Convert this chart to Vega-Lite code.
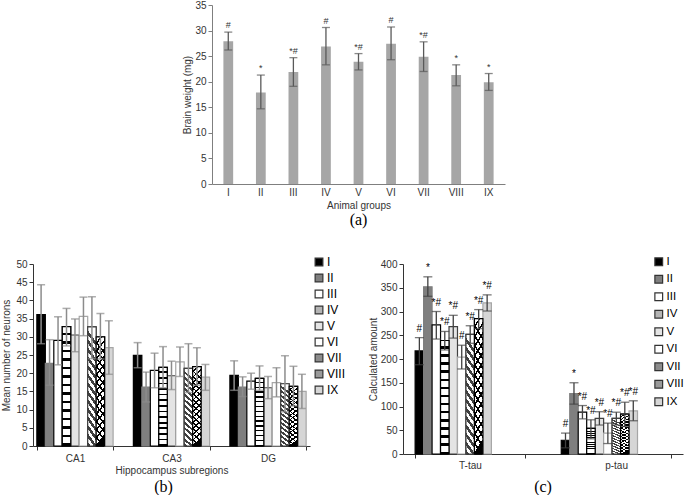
{
  "$schema": "https://vega.github.io/schema/vega-lite/v6.json",
  "padding": {"left": 1, "top": 0, "right": 0, "bottom": 0},
  "background": "white",
  "config": {
    "font": "Liberation Sans",
    "view": {"stroke": null},
    "axis": {"labelFontSize": 10, "titleFontSize": 10, "titleFontWeight": "normal", "labelColor": "#333333", "titleColor": "#333333", "domainColor": "#7f7f7f", "tickColor": "#7f7f7f", "grid": false, "tickSize": 4},
    "legend": {"symbolStrokeColor": "#333333"},
    "title": {"font": "Liberation Serif", "fontSize": 16, "fontWeight": "normal", "color": "#000000"}
  },
  "datasets": {
    "a": [
      {"group": "I", "value": 27.9, "lo": 26.2, "hi": 29.7, "label": "#"},
      {"group": "II", "value": 17.9, "lo": 14.7, "hi": 21.3, "label": "*"},
      {"group": "III", "value": 21.9, "lo": 19.1, "hi": 24.7, "label": "*#"},
      {"group": "IV", "value": 26.9, "lo": 23.3, "hi": 30.6, "label": "#"},
      {"group": "V", "value": 23.9, "lo": 22.3, "hi": 25.5, "label": "*#"},
      {"group": "VI", "value": 27.4, "lo": 24.3, "hi": 30.7, "label": "#"},
      {"group": "VII", "value": 24.9, "lo": 22.0, "hi": 27.8, "label": "*#"},
      {"group": "VIII", "value": 21.3, "lo": 19.2, "hi": 23.3, "label": "*"},
      {"group": "IX", "value": 19.9, "lo": 18.3, "hi": 21.6, "label": "*"}
    ],
    "b": [
      {"region": "CA1", "group": "I", "value": 36.1, "lo": 28.1, "hi": 44.3},
      {"region": "CA1", "group": "II", "value": 22.7, "lo": 16.7, "hi": 29.2},
      {"region": "CA1", "group": "III", "value": 29.0, "lo": 22.3, "hi": 35.5},
      {"region": "CA1", "group": "IV", "value": 32.8, "lo": 27.5, "hi": 37.8},
      {"region": "CA1", "group": "V", "value": 30.5, "lo": 25.9, "hi": 34.9},
      {"region": "CA1", "group": "VI", "value": 35.6, "lo": 30.3, "hi": 40.9},
      {"region": "CA1", "group": "VII", "value": 32.7, "lo": 24.0, "hi": 41.0},
      {"region": "CA1", "group": "VIII", "value": 30.0, "lo": 23.9, "hi": 36.4},
      {"region": "CA1", "group": "IX", "value": 27.0, "lo": 19.7, "hi": 34.4},
      {"region": "CA3", "group": "I", "value": 24.9, "lo": 21.5, "hi": 28.4},
      {"region": "CA3", "group": "II", "value": 16.2, "lo": 12.1, "hi": 20.3},
      {"region": "CA3", "group": "III", "value": 20.8, "lo": 16.0, "hi": 25.5},
      {"region": "CA3", "group": "IV", "value": 21.6, "lo": 16.0, "hi": 27.3},
      {"region": "CA3", "group": "V", "value": 19.3, "lo": 15.5, "hi": 23.3},
      {"region": "CA3", "group": "VI", "value": 23.1, "lo": 19.1, "hi": 27.2},
      {"region": "CA3", "group": "VII", "value": 21.3, "lo": 14.7, "hi": 28.1},
      {"region": "CA3", "group": "VIII", "value": 21.8, "lo": 16.7, "hi": 27.0},
      {"region": "CA3", "group": "IX", "value": 18.9, "lo": 15.3, "hi": 22.4},
      {"region": "DG", "group": "I", "value": 19.4, "lo": 15.3, "hi": 23.4},
      {"region": "DG", "group": "II", "value": 16.2, "lo": 13.6, "hi": 19.0},
      {"region": "DG", "group": "III", "value": 17.8, "lo": 15.6, "hi": 20.0},
      {"region": "DG", "group": "IV", "value": 18.6, "lo": 15.3, "hi": 22.0},
      {"region": "DG", "group": "V", "value": 16.0, "lo": 13.0, "hi": 19.1},
      {"region": "DG", "group": "VI", "value": 17.4, "lo": 13.5, "hi": 21.5},
      {"region": "DG", "group": "VII", "value": 17.1, "lo": 9.4, "hi": 24.8},
      {"region": "DG", "group": "VIII", "value": 16.4, "lo": 11.0, "hi": 21.9},
      {"region": "DG", "group": "IX", "value": 15.0, "lo": 10.3, "hi": 19.7}
    ],
    "c": [
      {"protein": "T-tau", "group": "I", "value": 217, "lo": 188, "hi": 245, "label": "#"},
      {"protein": "T-tau", "group": "II", "value": 352, "lo": 332, "hi": 373, "label": "*"},
      {"protein": "T-tau", "group": "III", "value": 272, "lo": 242, "hi": 300, "label": "*#"},
      {"protein": "T-tau", "group": "IV", "value": 239, "lo": 219, "hi": 258, "label": "*#"},
      {"protein": "T-tau", "group": "V", "value": 268, "lo": 244, "hi": 292, "label": "*#"},
      {"protein": "T-tau", "group": "VI", "value": 204, "lo": 179, "hi": 229, "label": "#"},
      {"protein": "T-tau", "group": "VII", "value": 252, "lo": 233, "hi": 270, "label": "*#"},
      {"protein": "T-tau", "group": "VIII", "value": 285, "lo": 264, "hi": 304, "label": "*#"},
      {"protein": "T-tau", "group": "IX", "value": 318, "lo": 301, "hi": 335, "label": "*#"},
      {"protein": "p-tau", "group": "I", "value": 29, "lo": 13, "hi": 44, "label": "#"},
      {"protein": "p-tau", "group": "II", "value": 127, "lo": 105, "hi": 150, "label": "*"},
      {"protein": "p-tau", "group": "III", "value": 88, "lo": 74, "hi": 102, "label": "*#"},
      {"protein": "p-tau", "group": "IV", "value": 54, "lo": 32, "hi": 72, "label": "*#"},
      {"protein": "p-tau", "group": "V", "value": 75, "lo": 61, "hi": 89, "label": "*#"},
      {"protein": "p-tau", "group": "VI", "value": 44, "lo": 22, "hi": 65, "label": "*#"},
      {"protein": "p-tau", "group": "VII", "value": 75, "lo": 61, "hi": 88, "label": "*#"},
      {"protein": "p-tau", "group": "VIII", "value": 84, "lo": 58, "hi": 109, "label": "*#"},
      {"protein": "p-tau", "group": "IX", "value": 91, "lo": 70, "hi": 112, "label": "*#"}
    ]
  },
  "vconcat": [
    {
      "width": 293,
      "height": 179,
      "data": {"name": "a"},
      "title": {"text": "(a)", "orient": "bottom", "offset": 2},
      "encoding": {
        "x": {"field": "group", "type": "nominal", "sort": ["I","II","III","IV","V","VI","VII","VIII","IX"],
              "scale": {"paddingInner": 0.7, "paddingOuter": 0.35},
              "axis": {"title": "Animal groups", "labelAngle": 0, "ticks": false, "labelPadding": 3, "titlePadding": 3}},
        "y": {"field": "value", "type": "quantitative", "scale": {"domain": [0, 35]},
              "axis": {"title": "Brain weight (mg)", "values": [0,5,10,15,20,25,30,35], "titlePadding": 2, "labelPadding": 2}}
      },
      "layer": [
        {"mark": {"type": "bar", "color": "#a6a6a6"}},
        {"mark": {"type": "rule", "color": "#595959", "strokeWidth": 1.3},
         "encoding": {"y": {"field": "lo", "type": "quantitative", "axis": {"title": "Brain weight (mg)", "values": [0,5,10,15,20,25,30,35], "titlePadding": 2, "labelPadding": 2}}, "y2": {"field": "hi"}}},
        {"mark": {"type": "tick", "color": "#595959", "size": 8, "thickness": 1.3},
         "encoding": {"y": {"field": "hi", "type": "quantitative", "axis": {"title": "Brain weight (mg)", "values": [0,5,10,15,20,25,30,35], "titlePadding": 2, "labelPadding": 2}}}},
        {"mark": {"type": "tick", "color": "#595959", "size": 8, "thickness": 1.3},
         "encoding": {"y": {"field": "lo", "type": "quantitative", "axis": {"title": "Brain weight (mg)", "values": [0,5,10,15,20,25,30,35], "titlePadding": 2, "labelPadding": 2}}}},
        {"mark": {"type": "text", "dy": -7, "fontSize": 9, "color": "#333333"},
         "encoding": {"y": {"field": "hi", "type": "quantitative", "axis": {"title": "Brain weight (mg)", "values": [0,5,10,15,20,25,30,35], "titlePadding": 2, "labelPadding": 2}}, "text": {"field": "label"}}}
      ]
    },
    {
      "hconcat": [
        {
          "width": 277,
          "height": 182,
          "data": {"name": "b"},
          "title": {"text": "(b)", "orient": "bottom", "offset": 4, "dx": -8},
          "encoding": {
            "x": {"field": "region", "type": "nominal", "sort": ["CA1","CA3","DG"],
                  "scale": {"paddingInner": 0.21, "paddingOuter": 0.04},
                  "axis": {"title": "Hippocampus subregions", "labelAngle": 0, "tickBand": "extent", "domainColor": "#333333", "tickColor": "#333333", "labelPadding": 3, "titlePadding": 2}},
            "xOffset": {"field": "group", "type": "nominal", "sort": ["I","II","III","IV","V","VI","VII","VIII","IX"], "scale": {"paddingInner": 0, "paddingOuter": 0}},
            "y": {"field": "value", "type": "quantitative", "scale": {"domain": [0, 50]},
                  "axis": {"title": "Mean number of neurons", "values": [0,5,10,15,20,25,30,35,40,45,50], "domainColor": "#333333", "tickColor": "#333333", "labelPadding": 2, "titlePadding": 4}}
          },
          "layer": [
            {"mark": {"type": "bar", "strokeWidth": 1.2},
             "encoding": {
               "fill": {"field": "group", "type": "nominal", "sort": ["I","II","III","IV","V","VI","VII","VIII","IX"],
                        "scale": {"range": ["#000000","#7f7f7f","#ffffff","#b4b4b4","#e4e4e4","#ffffff","#8c8c8c","#9a9a9a","#d6d6d6"]},
                        "legend": {"title": null, "orient": "none", "legendX": 280, "legendY": -8, "symbolType": "square", "symbolSize": 60, "labelFontSize": 12, "labelColor": "#000000", "rowPadding": 2, "labelOffset": 2, "symbolStrokeWidth": 1.2}},
               "stroke": {"field": "group", "type": "nominal", "sort": ["I","II","III","IV","V","VI","VII","VIII","IX"],
                          "scale": {"range": ["#000000","#7f7f7f","#000000","#000000","#404040","#a6a6a6","#404040","#000000","#a6a6a6"]},
                          "legend": null}
             }},
            {"transform": [{"filter": "datum.group === 'IV'"}],
             "mark": {"type": "bar", "stroke": "#000000", "strokeWidth": 1.2, "fill": {"gradient": "linear", "x1": 0, "y1": 0, "x2": 0, "y2": 1, "stops": [
               {"offset": 0, "color": "#ffffff"}, {"offset": 0.05, "color": "#ffffff"}, {"offset": 0.05, "color": "#000000"}, {"offset": 0.0714, "color": "#000000"},
               {"offset": 0.0714, "color": "#ffffff"}, {"offset": 0.1214, "color": "#ffffff"}, {"offset": 0.1214, "color": "#000000"}, {"offset": 0.1429, "color": "#000000"},
               {"offset": 0.1429, "color": "#ffffff"}, {"offset": 0.1929, "color": "#ffffff"}, {"offset": 0.1929, "color": "#000000"}, {"offset": 0.2143, "color": "#000000"},
               {"offset": 0.2143, "color": "#ffffff"}, {"offset": 0.2643, "color": "#ffffff"}, {"offset": 0.2643, "color": "#000000"}, {"offset": 0.2857, "color": "#000000"},
               {"offset": 0.2857, "color": "#ffffff"}, {"offset": 0.3357, "color": "#ffffff"}, {"offset": 0.3357, "color": "#000000"}, {"offset": 0.3571, "color": "#000000"},
               {"offset": 0.3571, "color": "#ffffff"}, {"offset": 0.4071, "color": "#ffffff"}, {"offset": 0.4071, "color": "#000000"}, {"offset": 0.4286, "color": "#000000"},
               {"offset": 0.4286, "color": "#ffffff"}, {"offset": 0.4786, "color": "#ffffff"}, {"offset": 0.4786, "color": "#000000"}, {"offset": 0.5, "color": "#000000"},
               {"offset": 0.5, "color": "#ffffff"}, {"offset": 0.55, "color": "#ffffff"}, {"offset": 0.55, "color": "#000000"}, {"offset": 0.5714, "color": "#000000"},
               {"offset": 0.5714, "color": "#ffffff"}, {"offset": 0.6214, "color": "#ffffff"}, {"offset": 0.6214, "color": "#000000"}, {"offset": 0.6429, "color": "#000000"},
               {"offset": 0.6429, "color": "#ffffff"}, {"offset": 0.6929, "color": "#ffffff"}, {"offset": 0.6929, "color": "#000000"}, {"offset": 0.7143, "color": "#000000"},
               {"offset": 0.7143, "color": "#ffffff"}, {"offset": 0.7643, "color": "#ffffff"}, {"offset": 0.7643, "color": "#000000"}, {"offset": 0.7857, "color": "#000000"},
               {"offset": 0.7857, "color": "#ffffff"}, {"offset": 0.8357, "color": "#ffffff"}, {"offset": 0.8357, "color": "#000000"}, {"offset": 0.8571, "color": "#000000"},
               {"offset": 0.8571, "color": "#ffffff"}, {"offset": 0.9071, "color": "#ffffff"}, {"offset": 0.9071, "color": "#000000"}, {"offset": 0.9286, "color": "#000000"},
               {"offset": 0.9286, "color": "#ffffff"}, {"offset": 0.9786, "color": "#ffffff"}, {"offset": 0.9786, "color": "#000000"}, {"offset": 1, "color": "#000000"}]}}},
            {"transform": [{"filter": "datum.group === 'VII'"}],
             "mark": {"type": "bar", "stroke": "#404040", "strokeWidth": 1.2, "fill": {"gradient": "linear", "x1": 0.1, "y1": 0, "x2": 0, "y2": 1, "stops": [
               {"offset": 0, "color": "#ffffff"}, {"offset": 0.0357, "color": "#ffffff"}, {"offset": 0.0357, "color": "#404040"}, {"offset": 0.0714, "color": "#404040"},
               {"offset": 0.0714, "color": "#ffffff"}, {"offset": 0.1071, "color": "#ffffff"}, {"offset": 0.1071, "color": "#404040"}, {"offset": 0.1429, "color": "#404040"},
               {"offset": 0.1429, "color": "#ffffff"}, {"offset": 0.1786, "color": "#ffffff"}, {"offset": 0.1786, "color": "#404040"}, {"offset": 0.2143, "color": "#404040"},
               {"offset": 0.2143, "color": "#ffffff"}, {"offset": 0.25, "color": "#ffffff"}, {"offset": 0.25, "color": "#404040"}, {"offset": 0.2857, "color": "#404040"},
               {"offset": 0.2857, "color": "#ffffff"}, {"offset": 0.3214, "color": "#ffffff"}, {"offset": 0.3214, "color": "#404040"}, {"offset": 0.3571, "color": "#404040"},
               {"offset": 0.3571, "color": "#ffffff"}, {"offset": 0.3929, "color": "#ffffff"}, {"offset": 0.3929, "color": "#404040"}, {"offset": 0.4286, "color": "#404040"},
               {"offset": 0.4286, "color": "#ffffff"}, {"offset": 0.4643, "color": "#ffffff"}, {"offset": 0.4643, "color": "#404040"}, {"offset": 0.5, "color": "#404040"},
               {"offset": 0.5, "color": "#ffffff"}, {"offset": 0.5357, "color": "#ffffff"}, {"offset": 0.5357, "color": "#404040"}, {"offset": 0.5714, "color": "#404040"},
               {"offset": 0.5714, "color": "#ffffff"}, {"offset": 0.6071, "color": "#ffffff"}, {"offset": 0.6071, "color": "#404040"}, {"offset": 0.6429, "color": "#404040"},
               {"offset": 0.6429, "color": "#ffffff"}, {"offset": 0.6786, "color": "#ffffff"}, {"offset": 0.6786, "color": "#404040"}, {"offset": 0.7143, "color": "#404040"},
               {"offset": 0.7143, "color": "#ffffff"}, {"offset": 0.75, "color": "#ffffff"}, {"offset": 0.75, "color": "#404040"}, {"offset": 0.7857, "color": "#404040"},
               {"offset": 0.7857, "color": "#ffffff"}, {"offset": 0.8214, "color": "#ffffff"}, {"offset": 0.8214, "color": "#404040"}, {"offset": 0.8571, "color": "#404040"},
               {"offset": 0.8571, "color": "#ffffff"}, {"offset": 0.8929, "color": "#ffffff"}, {"offset": 0.8929, "color": "#404040"}, {"offset": 0.9286, "color": "#404040"},
               {"offset": 0.9286, "color": "#ffffff"}, {"offset": 0.9643, "color": "#ffffff"}, {"offset": 0.9643, "color": "#404040"}, {"offset": 1, "color": "#404040"}]}}},
            {"transform": [{"filter": "datum.group === 'VIII'"}],
             "mark": {"type": "bar", "strokeWidth": 0, "fill": {"gradient": "linear", "x1": 0.1, "y1": 0, "x2": 0, "y2": 1, "stops": [
               {"offset": 0, "color": "#ffffff"}, {"offset": 0.05, "color": "#ffffff"}, {"offset": 0.05, "color": "#000000"}, {"offset": 0.0714, "color": "#000000"},
               {"offset": 0.0714, "color": "#ffffff"}, {"offset": 0.1214, "color": "#ffffff"}, {"offset": 0.1214, "color": "#000000"}, {"offset": 0.1429, "color": "#000000"},
               {"offset": 0.1429, "color": "#ffffff"}, {"offset": 0.1929, "color": "#ffffff"}, {"offset": 0.1929, "color": "#000000"}, {"offset": 0.2143, "color": "#000000"},
               {"offset": 0.2143, "color": "#ffffff"}, {"offset": 0.2643, "color": "#ffffff"}, {"offset": 0.2643, "color": "#000000"}, {"offset": 0.2857, "color": "#000000"},
               {"offset": 0.2857, "color": "#ffffff"}, {"offset": 0.3357, "color": "#ffffff"}, {"offset": 0.3357, "color": "#000000"}, {"offset": 0.3571, "color": "#000000"},
               {"offset": 0.3571, "color": "#ffffff"}, {"offset": 0.4071, "color": "#ffffff"}, {"offset": 0.4071, "color": "#000000"}, {"offset": 0.4286, "color": "#000000"},
               {"offset": 0.4286, "color": "#ffffff"}, {"offset": 0.4786, "color": "#ffffff"}, {"offset": 0.4786, "color": "#000000"}, {"offset": 0.5, "color": "#000000"},
               {"offset": 0.5, "color": "#ffffff"}, {"offset": 0.55, "color": "#ffffff"}, {"offset": 0.55, "color": "#000000"}, {"offset": 0.5714, "color": "#000000"},
               {"offset": 0.5714, "color": "#ffffff"}, {"offset": 0.6214, "color": "#ffffff"}, {"offset": 0.6214, "color": "#000000"}, {"offset": 0.6429, "color": "#000000"},
               {"offset": 0.6429, "color": "#ffffff"}, {"offset": 0.6929, "color": "#ffffff"}, {"offset": 0.6929, "color": "#000000"}, {"offset": 0.7143, "color": "#000000"},
               {"offset": 0.7143, "color": "#ffffff"}, {"offset": 0.7643, "color": "#ffffff"}, {"offset": 0.7643, "color": "#000000"}, {"offset": 0.7857, "color": "#000000"},
               {"offset": 0.7857, "color": "#ffffff"}, {"offset": 0.8357, "color": "#ffffff"}, {"offset": 0.8357, "color": "#000000"}, {"offset": 0.8571, "color": "#000000"},
               {"offset": 0.8571, "color": "#ffffff"}, {"offset": 0.9071, "color": "#ffffff"}, {"offset": 0.9071, "color": "#000000"}, {"offset": 0.9286, "color": "#000000"},
               {"offset": 0.9286, "color": "#ffffff"}, {"offset": 0.9786, "color": "#ffffff"}, {"offset": 0.9786, "color": "#000000"}, {"offset": 1, "color": "#000000"}]}}},
            {"transform": [{"filter": "datum.group === 'VIII'"}],
             "mark": {"type": "bar", "stroke": "#000000", "strokeWidth": 1.2, "fill": {"gradient": "linear", "x1": 0, "y1": 0, "x2": 0.1, "y2": 1, "stops": [
               {"offset": 0, "color": "rgba(255,255,255,0)"}, {"offset": 0.05, "color": "rgba(255,255,255,0)"}, {"offset": 0.05, "color": "#000000"}, {"offset": 0.0714, "color": "#000000"},
               {"offset": 0.0714, "color": "rgba(255,255,255,0)"}, {"offset": 0.1214, "color": "rgba(255,255,255,0)"}, {"offset": 0.1214, "color": "#000000"}, {"offset": 0.1429, "color": "#000000"},
               {"offset": 0.1429, "color": "rgba(255,255,255,0)"}, {"offset": 0.1929, "color": "rgba(255,255,255,0)"}, {"offset": 0.1929, "color": "#000000"}, {"offset": 0.2143, "color": "#000000"},
               {"offset": 0.2143, "color": "rgba(255,255,255,0)"}, {"offset": 0.2643, "color": "rgba(255,255,255,0)"}, {"offset": 0.2643, "color": "#000000"}, {"offset": 0.2857, "color": "#000000"},
               {"offset": 0.2857, "color": "rgba(255,255,255,0)"}, {"offset": 0.3357, "color": "rgba(255,255,255,0)"}, {"offset": 0.3357, "color": "#000000"}, {"offset": 0.3571, "color": "#000000"},
               {"offset": 0.3571, "color": "rgba(255,255,255,0)"}, {"offset": 0.4071, "color": "rgba(255,255,255,0)"}, {"offset": 0.4071, "color": "#000000"}, {"offset": 0.4286, "color": "#000000"},
               {"offset": 0.4286, "color": "rgba(255,255,255,0)"}, {"offset": 0.4786, "color": "rgba(255,255,255,0)"}, {"offset": 0.4786, "color": "#000000"}, {"offset": 0.5, "color": "#000000"},
               {"offset": 0.5, "color": "rgba(255,255,255,0)"}, {"offset": 0.55, "color": "rgba(255,255,255,0)"}, {"offset": 0.55, "color": "#000000"}, {"offset": 0.5714, "color": "#000000"},
               {"offset": 0.5714, "color": "rgba(255,255,255,0)"}, {"offset": 0.6214, "color": "rgba(255,255,255,0)"}, {"offset": 0.6214, "color": "#000000"}, {"offset": 0.6429, "color": "#000000"},
               {"offset": 0.6429, "color": "rgba(255,255,255,0)"}, {"offset": 0.6929, "color": "rgba(255,255,255,0)"}, {"offset": 0.6929, "color": "#000000"}, {"offset": 0.7143, "color": "#000000"},
               {"offset": 0.7143, "color": "rgba(255,255,255,0)"}, {"offset": 0.7643, "color": "rgba(255,255,255,0)"}, {"offset": 0.7643, "color": "#000000"}, {"offset": 0.7857, "color": "#000000"},
               {"offset": 0.7857, "color": "rgba(255,255,255,0)"}, {"offset": 0.8357, "color": "rgba(255,255,255,0)"}, {"offset": 0.8357, "color": "#000000"}, {"offset": 0.8571, "color": "#000000"},
               {"offset": 0.8571, "color": "rgba(255,255,255,0)"}, {"offset": 0.9071, "color": "rgba(255,255,255,0)"}, {"offset": 0.9071, "color": "#000000"}, {"offset": 0.9286, "color": "#000000"},
               {"offset": 0.9286, "color": "rgba(255,255,255,0)"}, {"offset": 0.9786, "color": "rgba(255,255,255,0)"}, {"offset": 0.9786, "color": "#000000"}, {"offset": 1, "color": "#000000"}]}}},
            {"mark": {"type": "rule", "color": "#8c8c8c", "strokeWidth": 1.5},
             "encoding": {"y": {"field": "lo", "type": "quantitative", "axis": {"title": "Mean number of neurons", "values": [0,5,10,15,20,25,30,35,40,45,50], "domainColor": "#333333", "tickColor": "#333333", "labelPadding": 2, "titlePadding": 4}}, "y2": {"field": "hi"}}},
            {"mark": {"type": "tick", "color": "#8c8c8c", "size": 8, "thickness": 1.5},
             "encoding": {"y": {"field": "hi", "type": "quantitative", "axis": {"title": "Mean number of neurons", "values": [0,5,10,15,20,25,30,35,40,45,50], "domainColor": "#333333", "tickColor": "#333333", "labelPadding": 2, "titlePadding": 4}}}},
            {"mark": {"type": "tick", "color": "#8c8c8c", "size": 8, "thickness": 1.5},
             "encoding": {"y": {"field": "lo", "type": "quantitative", "axis": {"title": "Mean number of neurons", "values": [0,5,10,15,20,25,30,35,40,45,50], "domainColor": "#333333", "tickColor": "#333333", "labelPadding": 2, "titlePadding": 4}}}}
          ]
        },
        {
          "width": 280,
          "height": 190,
          "data": {"name": "c"},
          "title": {"text": "(c)", "orient": "bottom", "offset": 9},
          "encoding": {
            "x": {"field": "protein", "type": "nominal", "sort": ["T-tau","p-tau"],
                  "scale": {"paddingInner": 0.25, "paddingOuter": 0.083},
                  "axis": {"title": null, "labelAngle": 0, "tickBand": "extent", "domainColor": "#333333", "tickColor": "#333333", "labelPadding": 2}},
            "xOffset": {"field": "group", "type": "nominal", "sort": ["I","II","III","IV","V","VI","VII","VIII","IX"], "scale": {"paddingInner": 0, "paddingOuter": 0}},
            "y": {"field": "value", "type": "quantitative", "scale": {"domain": [0, 400]},
                  "axis": {"title": "Calculated amount", "values": [0,50,100,150,200,250,300,350,400], "domainColor": "#333333", "tickColor": "#333333", "labelPadding": 2, "titlePadding": 2}}
          },
          "layer": [
            {"mark": {"type": "bar", "strokeWidth": 1.2},
             "encoding": {
               "fill": {"field": "group", "type": "nominal", "sort": ["I","II","III","IV","V","VI","VII","VIII","IX"],
                        "scale": {"range": ["#000000","#7f7f7f","#ffffff","#b4b4b4","#e4e4e4","#ffffff","#8c8c8c","#9a9a9a","#d6d6d6"]},
                        "legend": {"title": null, "orient": "none", "legendX": 250, "legendY": -8, "symbolType": "square", "symbolSize": 60, "labelFontSize": 11.5, "labelColor": "#000000", "rowPadding": 3.5, "labelOffset": 2, "symbolStrokeWidth": 1.2}},
               "stroke": {"field": "group", "type": "nominal", "sort": ["I","II","III","IV","V","VI","VII","VIII","IX"],
                          "scale": {"range": ["#000000","#7f7f7f","#000000","#000000","#404040","#a6a6a6","#404040","#000000","#a6a6a6"]},
                          "legend": null}
             }},
            {"transform": [{"filter": "datum.group === 'IV'"}],
             "mark": {"type": "bar", "stroke": "#000000", "strokeWidth": 1.2, "fill": {"gradient": "linear", "x1": 0, "y1": 0, "x2": 0, "y2": 1, "stops": [
               {"offset": 0, "color": "#ffffff"}, {"offset": 0.05, "color": "#ffffff"}, {"offset": 0.05, "color": "#000000"}, {"offset": 0.0714, "color": "#000000"},
               {"offset": 0.0714, "color": "#ffffff"}, {"offset": 0.1214, "color": "#ffffff"}, {"offset": 0.1214, "color": "#000000"}, {"offset": 0.1429, "color": "#000000"},
               {"offset": 0.1429, "color": "#ffffff"}, {"offset": 0.1929, "color": "#ffffff"}, {"offset": 0.1929, "color": "#000000"}, {"offset": 0.2143, "color": "#000000"},
               {"offset": 0.2143, "color": "#ffffff"}, {"offset": 0.2643, "color": "#ffffff"}, {"offset": 0.2643, "color": "#000000"}, {"offset": 0.2857, "color": "#000000"},
               {"offset": 0.2857, "color": "#ffffff"}, {"offset": 0.3357, "color": "#ffffff"}, {"offset": 0.3357, "color": "#000000"}, {"offset": 0.3571, "color": "#000000"},
               {"offset": 0.3571, "color": "#ffffff"}, {"offset": 0.4071, "color": "#ffffff"}, {"offset": 0.4071, "color": "#000000"}, {"offset": 0.4286, "color": "#000000"},
               {"offset": 0.4286, "color": "#ffffff"}, {"offset": 0.4786, "color": "#ffffff"}, {"offset": 0.4786, "color": "#000000"}, {"offset": 0.5, "color": "#000000"},
               {"offset": 0.5, "color": "#ffffff"}, {"offset": 0.55, "color": "#ffffff"}, {"offset": 0.55, "color": "#000000"}, {"offset": 0.5714, "color": "#000000"},
               {"offset": 0.5714, "color": "#ffffff"}, {"offset": 0.6214, "color": "#ffffff"}, {"offset": 0.6214, "color": "#000000"}, {"offset": 0.6429, "color": "#000000"},
               {"offset": 0.6429, "color": "#ffffff"}, {"offset": 0.6929, "color": "#ffffff"}, {"offset": 0.6929, "color": "#000000"}, {"offset": 0.7143, "color": "#000000"},
               {"offset": 0.7143, "color": "#ffffff"}, {"offset": 0.7643, "color": "#ffffff"}, {"offset": 0.7643, "color": "#000000"}, {"offset": 0.7857, "color": "#000000"},
               {"offset": 0.7857, "color": "#ffffff"}, {"offset": 0.8357, "color": "#ffffff"}, {"offset": 0.8357, "color": "#000000"}, {"offset": 0.8571, "color": "#000000"},
               {"offset": 0.8571, "color": "#ffffff"}, {"offset": 0.9071, "color": "#ffffff"}, {"offset": 0.9071, "color": "#000000"}, {"offset": 0.9286, "color": "#000000"},
               {"offset": 0.9286, "color": "#ffffff"}, {"offset": 0.9786, "color": "#ffffff"}, {"offset": 0.9786, "color": "#000000"}, {"offset": 1, "color": "#000000"}]}}},
            {"transform": [{"filter": "datum.group === 'VII'"}],
             "mark": {"type": "bar", "stroke": "#404040", "strokeWidth": 1.2, "fill": {"gradient": "linear", "x1": 0.1, "y1": 0, "x2": 0, "y2": 1, "stops": [
               {"offset": 0, "color": "#ffffff"}, {"offset": 0.0357, "color": "#ffffff"}, {"offset": 0.0357, "color": "#404040"}, {"offset": 0.0714, "color": "#404040"},
               {"offset": 0.0714, "color": "#ffffff"}, {"offset": 0.1071, "color": "#ffffff"}, {"offset": 0.1071, "color": "#404040"}, {"offset": 0.1429, "color": "#404040"},
               {"offset": 0.1429, "color": "#ffffff"}, {"offset": 0.1786, "color": "#ffffff"}, {"offset": 0.1786, "color": "#404040"}, {"offset": 0.2143, "color": "#404040"},
               {"offset": 0.2143, "color": "#ffffff"}, {"offset": 0.25, "color": "#ffffff"}, {"offset": 0.25, "color": "#404040"}, {"offset": 0.2857, "color": "#404040"},
               {"offset": 0.2857, "color": "#ffffff"}, {"offset": 0.3214, "color": "#ffffff"}, {"offset": 0.3214, "color": "#404040"}, {"offset": 0.3571, "color": "#404040"},
               {"offset": 0.3571, "color": "#ffffff"}, {"offset": 0.3929, "color": "#ffffff"}, {"offset": 0.3929, "color": "#404040"}, {"offset": 0.4286, "color": "#404040"},
               {"offset": 0.4286, "color": "#ffffff"}, {"offset": 0.4643, "color": "#ffffff"}, {"offset": 0.4643, "color": "#404040"}, {"offset": 0.5, "color": "#404040"},
               {"offset": 0.5, "color": "#ffffff"}, {"offset": 0.5357, "color": "#ffffff"}, {"offset": 0.5357, "color": "#404040"}, {"offset": 0.5714, "color": "#404040"},
               {"offset": 0.5714, "color": "#ffffff"}, {"offset": 0.6071, "color": "#ffffff"}, {"offset": 0.6071, "color": "#404040"}, {"offset": 0.6429, "color": "#404040"},
               {"offset": 0.6429, "color": "#ffffff"}, {"offset": 0.6786, "color": "#ffffff"}, {"offset": 0.6786, "color": "#404040"}, {"offset": 0.7143, "color": "#404040"},
               {"offset": 0.7143, "color": "#ffffff"}, {"offset": 0.75, "color": "#ffffff"}, {"offset": 0.75, "color": "#404040"}, {"offset": 0.7857, "color": "#404040"},
               {"offset": 0.7857, "color": "#ffffff"}, {"offset": 0.8214, "color": "#ffffff"}, {"offset": 0.8214, "color": "#404040"}, {"offset": 0.8571, "color": "#404040"},
               {"offset": 0.8571, "color": "#ffffff"}, {"offset": 0.8929, "color": "#ffffff"}, {"offset": 0.8929, "color": "#404040"}, {"offset": 0.9286, "color": "#404040"},
               {"offset": 0.9286, "color": "#ffffff"}, {"offset": 0.9643, "color": "#ffffff"}, {"offset": 0.9643, "color": "#404040"}, {"offset": 1, "color": "#404040"}]}}},
            {"transform": [{"filter": "datum.group === 'VIII'"}],
             "mark": {"type": "bar", "strokeWidth": 0, "fill": {"gradient": "linear", "x1": 0.1, "y1": 0, "x2": 0, "y2": 1, "stops": [
               {"offset": 0, "color": "#ffffff"}, {"offset": 0.05, "color": "#ffffff"}, {"offset": 0.05, "color": "#000000"}, {"offset": 0.0714, "color": "#000000"},
               {"offset": 0.0714, "color": "#ffffff"}, {"offset": 0.1214, "color": "#ffffff"}, {"offset": 0.1214, "color": "#000000"}, {"offset": 0.1429, "color": "#000000"},
               {"offset": 0.1429, "color": "#ffffff"}, {"offset": 0.1929, "color": "#ffffff"}, {"offset": 0.1929, "color": "#000000"}, {"offset": 0.2143, "color": "#000000"},
               {"offset": 0.2143, "color": "#ffffff"}, {"offset": 0.2643, "color": "#ffffff"}, {"offset": 0.2643, "color": "#000000"}, {"offset": 0.2857, "color": "#000000"},
               {"offset": 0.2857, "color": "#ffffff"}, {"offset": 0.3357, "color": "#ffffff"}, {"offset": 0.3357, "color": "#000000"}, {"offset": 0.3571, "color": "#000000"},
               {"offset": 0.3571, "color": "#ffffff"}, {"offset": 0.4071, "color": "#ffffff"}, {"offset": 0.4071, "color": "#000000"}, {"offset": 0.4286, "color": "#000000"},
               {"offset": 0.4286, "color": "#ffffff"}, {"offset": 0.4786, "color": "#ffffff"}, {"offset": 0.4786, "color": "#000000"}, {"offset": 0.5, "color": "#000000"},
               {"offset": 0.5, "color": "#ffffff"}, {"offset": 0.55, "color": "#ffffff"}, {"offset": 0.55, "color": "#000000"}, {"offset": 0.5714, "color": "#000000"},
               {"offset": 0.5714, "color": "#ffffff"}, {"offset": 0.6214, "color": "#ffffff"}, {"offset": 0.6214, "color": "#000000"}, {"offset": 0.6429, "color": "#000000"},
               {"offset": 0.6429, "color": "#ffffff"}, {"offset": 0.6929, "color": "#ffffff"}, {"offset": 0.6929, "color": "#000000"}, {"offset": 0.7143, "color": "#000000"},
               {"offset": 0.7143, "color": "#ffffff"}, {"offset": 0.7643, "color": "#ffffff"}, {"offset": 0.7643, "color": "#000000"}, {"offset": 0.7857, "color": "#000000"},
               {"offset": 0.7857, "color": "#ffffff"}, {"offset": 0.8357, "color": "#ffffff"}, {"offset": 0.8357, "color": "#000000"}, {"offset": 0.8571, "color": "#000000"},
               {"offset": 0.8571, "color": "#ffffff"}, {"offset": 0.9071, "color": "#ffffff"}, {"offset": 0.9071, "color": "#000000"}, {"offset": 0.9286, "color": "#000000"},
               {"offset": 0.9286, "color": "#ffffff"}, {"offset": 0.9786, "color": "#ffffff"}, {"offset": 0.9786, "color": "#000000"}, {"offset": 1, "color": "#000000"}]}}},
            {"transform": [{"filter": "datum.group === 'VIII'"}],
             "mark": {"type": "bar", "stroke": "#000000", "strokeWidth": 1.2, "fill": {"gradient": "linear", "x1": 0, "y1": 0, "x2": 0.1, "y2": 1, "stops": [
               {"offset": 0, "color": "rgba(255,255,255,0)"}, {"offset": 0.05, "color": "rgba(255,255,255,0)"}, {"offset": 0.05, "color": "#000000"}, {"offset": 0.0714, "color": "#000000"},
               {"offset": 0.0714, "color": "rgba(255,255,255,0)"}, {"offset": 0.1214, "color": "rgba(255,255,255,0)"}, {"offset": 0.1214, "color": "#000000"}, {"offset": 0.1429, "color": "#000000"},
               {"offset": 0.1429, "color": "rgba(255,255,255,0)"}, {"offset": 0.1929, "color": "rgba(255,255,255,0)"}, {"offset": 0.1929, "color": "#000000"}, {"offset": 0.2143, "color": "#000000"},
               {"offset": 0.2143, "color": "rgba(255,255,255,0)"}, {"offset": 0.2643, "color": "rgba(255,255,255,0)"}, {"offset": 0.2643, "color": "#000000"}, {"offset": 0.2857, "color": "#000000"},
               {"offset": 0.2857, "color": "rgba(255,255,255,0)"}, {"offset": 0.3357, "color": "rgba(255,255,255,0)"}, {"offset": 0.3357, "color": "#000000"}, {"offset": 0.3571, "color": "#000000"},
               {"offset": 0.3571, "color": "rgba(255,255,255,0)"}, {"offset": 0.4071, "color": "rgba(255,255,255,0)"}, {"offset": 0.4071, "color": "#000000"}, {"offset": 0.4286, "color": "#000000"},
               {"offset": 0.4286, "color": "rgba(255,255,255,0)"}, {"offset": 0.4786, "color": "rgba(255,255,255,0)"}, {"offset": 0.4786, "color": "#000000"}, {"offset": 0.5, "color": "#000000"},
               {"offset": 0.5, "color": "rgba(255,255,255,0)"}, {"offset": 0.55, "color": "rgba(255,255,255,0)"}, {"offset": 0.55, "color": "#000000"}, {"offset": 0.5714, "color": "#000000"},
               {"offset": 0.5714, "color": "rgba(255,255,255,0)"}, {"offset": 0.6214, "color": "rgba(255,255,255,0)"}, {"offset": 0.6214, "color": "#000000"}, {"offset": 0.6429, "color": "#000000"},
               {"offset": 0.6429, "color": "rgba(255,255,255,0)"}, {"offset": 0.6929, "color": "rgba(255,255,255,0)"}, {"offset": 0.6929, "color": "#000000"}, {"offset": 0.7143, "color": "#000000"},
               {"offset": 0.7143, "color": "rgba(255,255,255,0)"}, {"offset": 0.7643, "color": "rgba(255,255,255,0)"}, {"offset": 0.7643, "color": "#000000"}, {"offset": 0.7857, "color": "#000000"},
               {"offset": 0.7857, "color": "rgba(255,255,255,0)"}, {"offset": 0.8357, "color": "rgba(255,255,255,0)"}, {"offset": 0.8357, "color": "#000000"}, {"offset": 0.8571, "color": "#000000"},
               {"offset": 0.8571, "color": "rgba(255,255,255,0)"}, {"offset": 0.9071, "color": "rgba(255,255,255,0)"}, {"offset": 0.9071, "color": "#000000"}, {"offset": 0.9286, "color": "#000000"},
               {"offset": 0.9286, "color": "rgba(255,255,255,0)"}, {"offset": 0.9786, "color": "rgba(255,255,255,0)"}, {"offset": 0.9786, "color": "#000000"}, {"offset": 1, "color": "#000000"}]}}},
            {"mark": {"type": "rule", "color": "#404040", "strokeWidth": 1.3},
             "encoding": {"y": {"field": "lo", "type": "quantitative", "axis": {"title": "Calculated amount", "values": [0,50,100,150,200,250,300,350,400], "domainColor": "#333333", "tickColor": "#333333", "labelPadding": 2, "titlePadding": 2}}, "y2": {"field": "hi"}}},
            {"mark": {"type": "tick", "color": "#404040", "size": 9, "thickness": 1.3},
             "encoding": {"y": {"field": "hi", "type": "quantitative", "axis": {"title": "Calculated amount", "values": [0,50,100,150,200,250,300,350,400], "domainColor": "#333333", "tickColor": "#333333", "labelPadding": 2, "titlePadding": 2}}}},
            {"mark": {"type": "tick", "color": "#404040", "size": 9, "thickness": 1.3},
             "encoding": {"y": {"field": "lo", "type": "quantitative", "axis": {"title": "Calculated amount", "values": [0,50,100,150,200,250,300,350,400], "domainColor": "#333333", "tickColor": "#333333", "labelPadding": 2, "titlePadding": 2}}}},
            {"mark": {"type": "text", "dy": -9, "fontSize": 10, "color": "#000000"},
             "encoding": {"y": {"field": "hi", "type": "quantitative", "axis": {"title": "Calculated amount", "values": [0,50,100,150,200,250,300,350,400], "domainColor": "#333333", "tickColor": "#333333", "labelPadding": 2, "titlePadding": 2}}, "text": {"field": "label"}}}
          ]
        }
      ],
      "spacing": 22,
      "resolve": {"scale": {"fill": "independent", "stroke": "independent"}, "legend": {"fill": "independent", "stroke": "independent"}}
    }
  ],
  "spacing": 28,
  "center": true
}
